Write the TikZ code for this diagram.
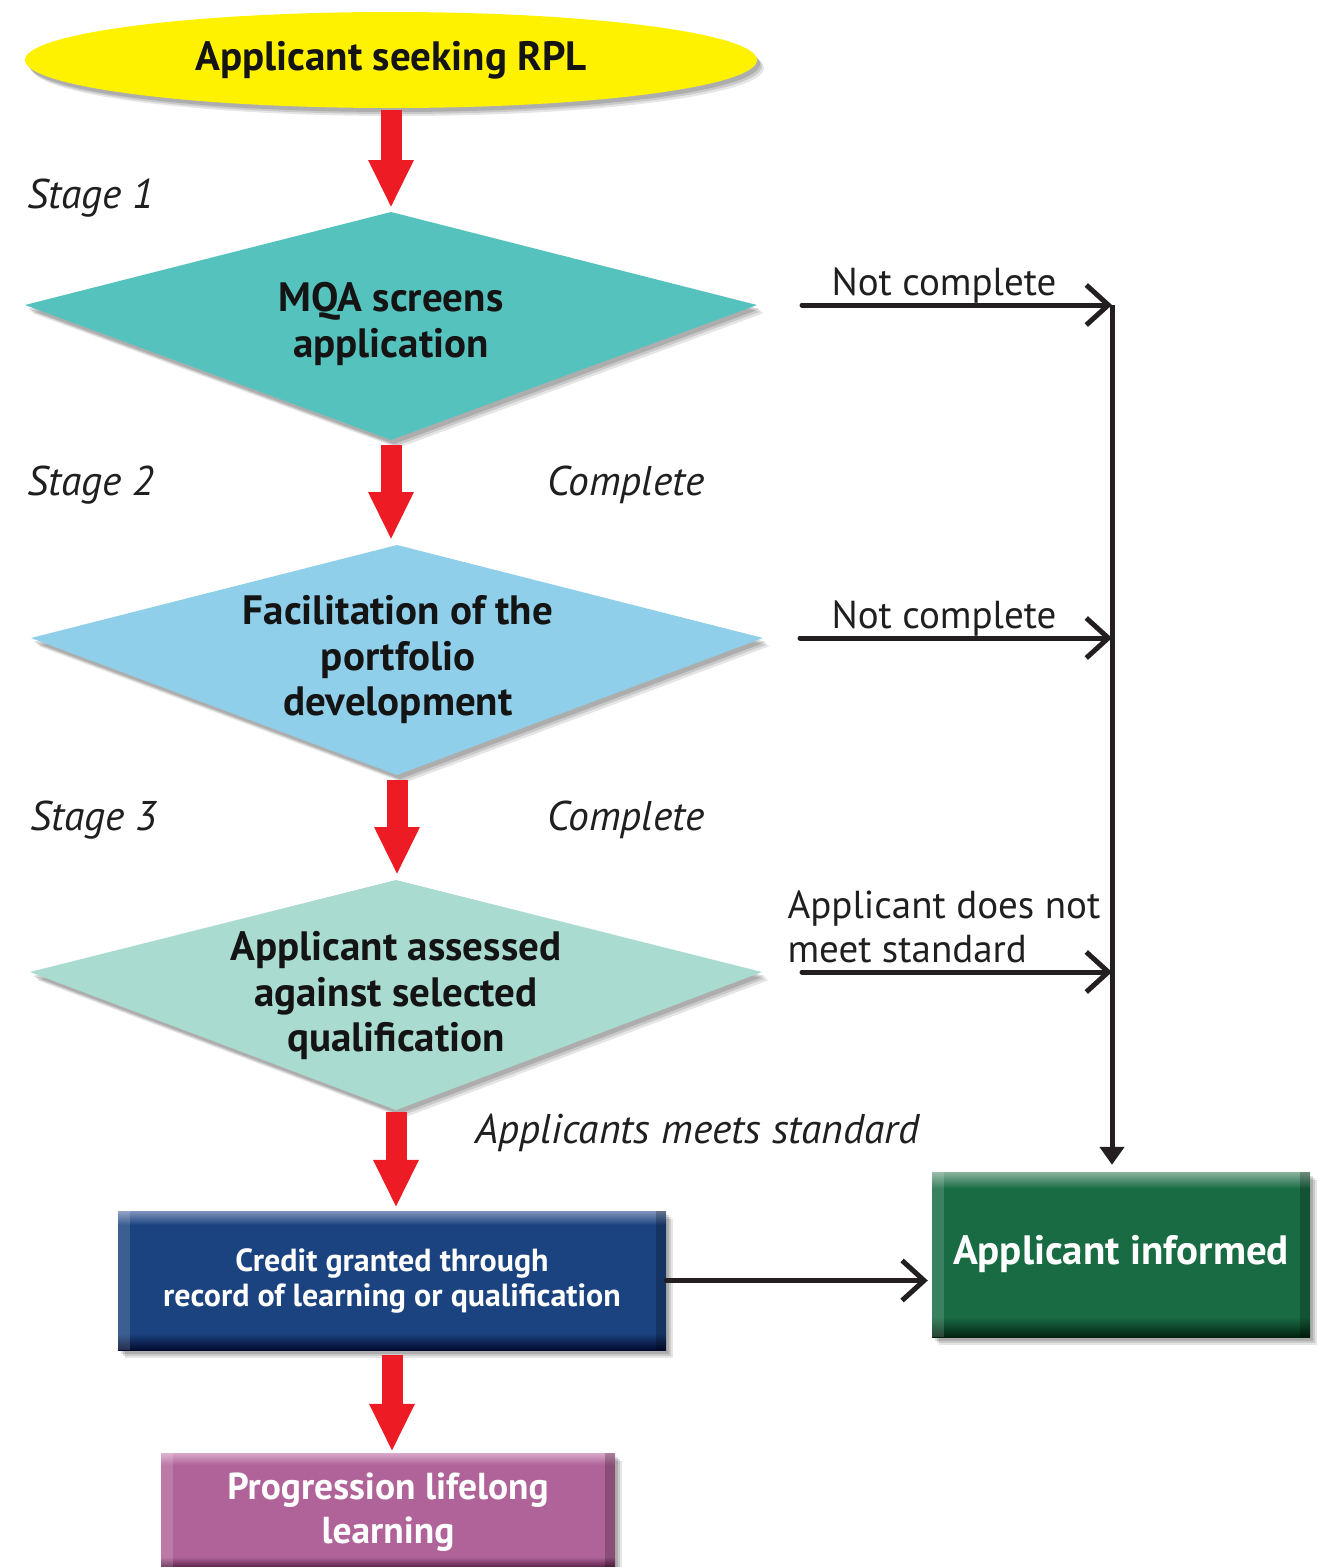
\documentclass[tikz,border=0pt]{standalone}
\usepackage{fontspec}
\setmainfont{PT Sans}
\usetikzlibrary{arrows.meta, positioning, shapes.geometric, shadows}

\definecolor{rplyellow}{HTML}{FFF200}
\definecolor{rplred}{HTML}{ED1C24}
\definecolor{screenteal}{HTML}{56C2BD}
\definecolor{portblue}{HTML}{8FCFEA}
\definecolor{assessmint}{HTML}{A9DBD1}
\definecolor{linegrey}{HTML}{231F20}
\definecolor{creditblue}{HTML}{1B437F}
\definecolor{creditdark}{HTML}{020A30}
\definecolor{creditlight}{HTML}{7F93BC}
\definecolor{informgreen}{HTML}{186B43}
\definecolor{informdark}{HTML}{02220F}
\definecolor{informlight}{HTML}{8AB39C}
\definecolor{progpurple}{HTML}{B06399}
\definecolor{progdark}{HTML}{3A0A2C}
\definecolor{proglight}{HTML}{D8A8C8}

\pgfdeclareverticalshading{creditshade}{100bp}{color(0bp)=(creditdark); color(25bp)=(creditdark); color(31bp)=(creditblue); color(70bp)=(creditblue); color(75bp)=(creditlight); color(100bp)=(creditlight)}
\pgfdeclareverticalshading{informshade}{100bp}{color(0bp)=(informdark); color(25bp)=(informdark); color(31bp)=(informgreen); color(70bp)=(informgreen); color(75bp)=(informlight); color(100bp)=(informlight)}
\pgfdeclareverticalshading{progshade}{100bp}{color(0bp)=(progdark); color(25bp)=(progdark); color(31bp)=(progpurple); color(70bp)=(progpurple); color(75bp)=(proglight); color(100bp)=(proglight)}

\tikzset{
  softshadow/.style={
    drop shadow={shadow xshift=7pt, shadow yshift=-8pt, opacity=0.10, fill=black},
    drop shadow={shadow xshift=5pt, shadow yshift=-6pt, opacity=0.12, fill=black},
    drop shadow={shadow xshift=3pt, shadow yshift=-4pt, opacity=0.14, fill=black}},
  flowtext/.style={font=\bfseries\fontsize{41}{45.5}\selectfont, align=center, text=black!92},
  boxtext/.style={font=\bfseries\fontsize{41}{44}\selectfont, align=center, text=white},
  stagelabel/.style={font=\itshape\fontsize{41.5}{44}\selectfont, anchor=west, text=black!88},
  notelabel/.style={font=\fontsize{39}{44}\selectfont, anchor=west, align=left, text=black!88},
  redarrow/.style={draw=rplred, line width=21pt, -{Triangle[length=48pt, width=42pt]}},
  backarrow/.style={draw=linegrey, line width=5pt, line cap=round, -{Straight Barb[length=22pt, width=40pt]}},
  downarrow/.style={draw=linegrey, line width=5pt, -{Triangle[length=18pt, width=24pt]}},
  bevelbox/.style={rectangle, inner sep=0pt, softshadow, boxtext,
    path picture={
      \fill[white, opacity=0.15] (path picture bounding box.south west) rectangle ([xshift=12pt]path picture bounding box.north west);
      \fill[black, opacity=0.22] ([xshift=-10pt]path picture bounding box.south east) rectangle (path picture bounding box.north east);}}
}

\begin{document}
\begin{tikzpicture}[x=1pt, y=-1pt]
  \useasboundingbox (0,0) rectangle (1318,1567);
  % Start
  \node[ellipse, fill=rplyellow, minimum width=732pt, minimum height=96pt, softshadow, flowtext] (seek) at (391,60) {Applicant seeking RPL};
  % Stage kites
  \foreach \k/\cx/\cy/\ty/\by/\col in {1/391/305/212/440/screenteal, 2/397/638/545/775/portblue, 3/396/972/880/1110/assessmint} {
    \coordinate (d\k n) at (\cx,\ty);
    \coordinate (d\k s) at (\cx,\by);
    \coordinate (d\k e) at (\cx+366,\cy);
    \coordinate (d\k w) at (\cx-366,\cy);
    \fill[\col, softshadow] (d\k n) -- (d\k e) -- (d\k s) -- (d\k w) -- cycle;
  }
  \node[flowtext] (d1) at (391,324) {MQA screens\\application};
  \node[flowtext] (d2) at (398,660) {Facilitation of the\\portfolio\\development};
  \node[flowtext] (d3) at (396,996) {Applicant assessed\\against selected\\qualification};
  % Boxes
  \node[bevelbox, shading=creditshade, minimum width=548pt, minimum height=139pt, font=\bfseries\fontsize{32}{35}\selectfont] (credit) at (392,1280.5) {Credit granted through\\record of learning or qualification};
  \node[bevelbox, shading=informshade, minimum width=378pt, minimum height=165pt] (inform) at (1121,1254.5) {Applicant informed};
  \node[bevelbox, shading=progshade, minimum width=454pt, minimum height=118pt, font=\bfseries\fontsize{37.5}{44}\selectfont] (prog) at (388,1512) {Progression lifelong\\learning};
  % Labels
  \node[stagelabel] (s1) at (24,198) {Stage 1};
  \node[stagelabel] (s2) at (24,485) {Stage 2};
  \node[stagelabel] (s3) at (27,820) {Stage 3};
  \node[stagelabel] (c1) at (544,485) {Complete};
  \node[stagelabel] (c2) at (544,820) {Complete};
  \node[stagelabel] (meets) at (472,1133) {Applicants meets standard};
  \node[notelabel] (nc1) at (828,286) {Not complete};
  \node[notelabel] (nc2) at (828,619) {Not complete};
  \node[notelabel] (dn) at (784,927) {Applicant does not\\meet standard};
  % Main flow
  \draw[redarrow, shorten <=2pt, shorten >=4pt] (seek.south) -- (d1n);
  \draw[redarrow, shorten <=5pt, shorten >=5pt] (d1s) -- (d1s |- d2n);
  \draw[redarrow, shorten <=5pt, shorten >=5pt] (d2s) -- (d2s |- d3n);
  \draw[redarrow, shorten <=2pt, shorten >=3pt] (d3s) -- (d3s |- credit.north);
  \draw[redarrow, shorten <=5pt, shorten >=1pt] (credit.south) -- (credit.south |- prog.north);
  % Return paths
  \coordinate (j1) at (1112,305);
  \coordinate (j2) at (1112,638);
  \coordinate (j3) at (1112,972);
  \draw[backarrow] ([xshift=45pt]d1e) -- (j1);
  \draw[backarrow] ([xshift=37pt]d2e) -- (j2);
  \draw[backarrow] ([xshift=40pt]d3e) -- (j3);
  \draw[downarrow, shorten >=7pt] (j1) -- (j1 |- inform.north);
  \draw[backarrow] (credit.east) -- ([xshift=-4pt]credit.east -| inform.west);
\end{tikzpicture}
\end{document}
